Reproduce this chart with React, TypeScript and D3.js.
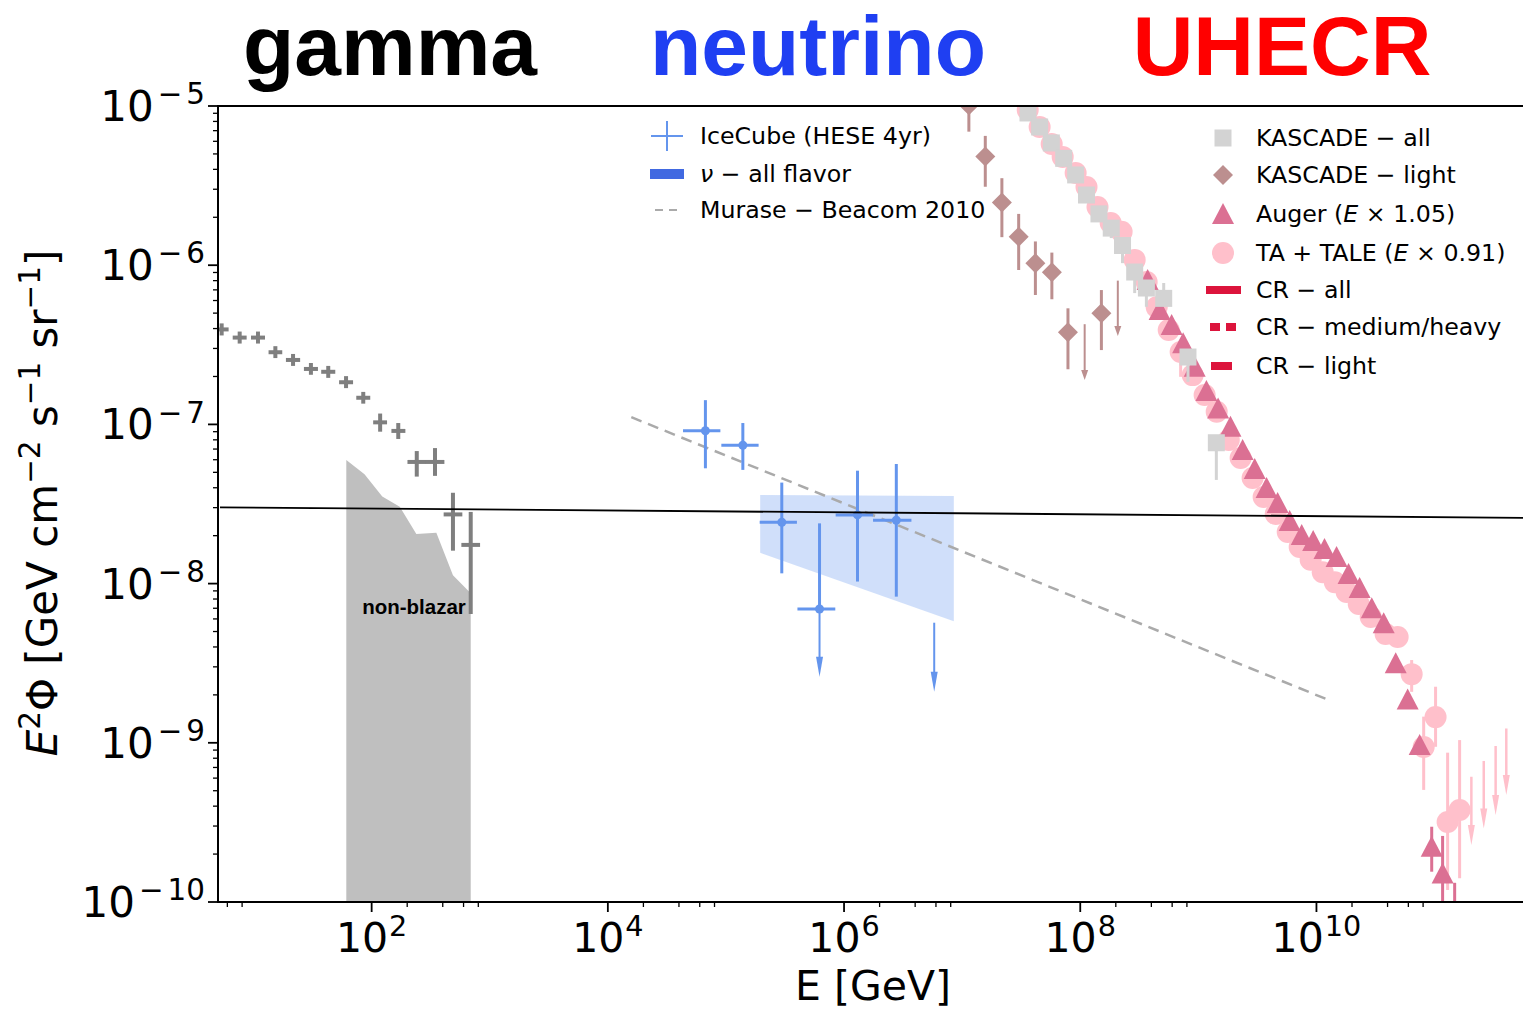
import { useEffect, useRef } from "react";
import * as d3 from "d3";

const W = 1523;
const H = 1013;

// axis ticks
const xMajor = [1e2, 1e4, 1e6, 1e8, 1e10];
const xMajorExp = ["2", "4", "6", "8", "10"];
const xMinor = [6, 8, 200, 400, 600, 800, 2e4, 4e4, 6e4, 8e4, 2e6, 4e6, 6e6, 8e6, 2e8, 4e8, 6e8, 8e8, 2e10, 4e10, 6e10, 8e10];
const yMajor = [1e-5, 1e-6, 1e-7, 1e-8, 1e-9, 1e-10];
const yMajorExp = ["5", "6", "7", "8", "9", "10"];

// Fermi-LAT EGB (gray crosses)
const fermiE = [5.37, 7.63, 10.9, 15.3, 21.6, 30.6, 42.9, 60.7, 84.9, 118, 168, 241, 344, 488, 690];
const fermiElo = [4.69, 6.66, 9.51, 13.4, 18.8, 26.7, 37.4, 53, 74.1, 103, 147, 201, 287, 407, 575];
const fermiEhi = [6.15, 8.74, 12.5, 17.5, 24.8, 35.1, 49.2, 69.6, 97.3, 135, 193, 289, 413, 586, 828];
const fermiF = [3.95e-7, 3.51e-7, 3.51e-7, 2.84e-7, 2.54e-7, 2.23e-7, 2.14e-7, 1.84e-7, 1.47e-7, 1.03e-7, 9.1e-8, 5.81e-8, 5.81e-8, 2.72e-8, 1.75e-8];
const fermiLo = [3.62e-7, 3.22e-7, 3.22e-7, 2.61e-7, 2.33e-7, 2.05e-7, 1.96e-7, 1.69e-7, 1.35e-7, 9.0e-8, 8.1e-8, 4.7e-8, 4.75e-8, 1.61e-8, 6.44e-9];
const fermiHi = [4.31e-7, 3.83e-7, 3.83e-7, 3.1e-7, 2.77e-7, 2.43e-7, 2.33e-7, 2.01e-7, 1.6e-7, 1.17e-7, 1.02e-7, 6.8e-8, 7.1e-8, 3.72e-8, 2.82e-8];

// non-blazar band (upper edge)
const nbE = [61, 87, 123, 173, 239, 353, 488, 690];
const nbF = [5.97e-8, 4.86e-8, 3.52e-8, 3.04e-8, 2.05e-8, 2.09e-8, 1.13e-8, 8.69e-9];

// thin black line
const lineE = [5.2, 6e11];
const lineF = [3.01e-8, 2.59e-8];

// Murase-Beacom 2010
const mbE = [1.58e4, 1.24e10];
const mbF = [1.11e-7, 1.87e-9];

// IceCube HESE 4yr
const heseE = [6.7e4, 1.39e5, 2.97e5, 6.2e5, 1.3e6, 2.77e6];
const heseElo = [4.33e4, 9.14e4, 1.93e5, 4.03e5, 8.49e5, 1.76e6];
const heseEhi = [8.97e4, 1.89e5, 3.99e5, 8.43e5, 1.76e6, 3.72e6];
const heseF = [9.12e-8, 7.4e-8, 2.43e-8, 6.92e-9, 2.7e-8, 2.5e-8];
const heseHi = [1.42e-7, 1.02e-7, 4.31e-8, 2.39e-8, 5.12e-8, 5.64e-8];
const heseLo = [5.3e-8, 5.18e-8, 1.16e-8, 2.6e-9, 1.03e-8, 8.28e-9];
const heseUL = [false, false, false, true, false, false];
const heseLimE = [5.8e6];
const heseLimF = [5.68e-9];
const heseLimTip = [2.09e-9];

// all-flavor band
const bandE = [1.95e5, 8.5e6];
const bandHi = [3.6e-8, 3.55e-8];
const bandLo = [1.56e-8, 5.8e-9];

// KASCADE light (diamonds)
const kLightE = [1.14e7, 1.57e7, 2.17e7, 3.01e7, 4.17e7, 5.75e7, 7.87e7, 1.51e8];
const kLightF = [1.01e-5, 4.81e-6, 2.48e-6, 1.51e-6, 1.03e-6, 9.02e-7, 3.79e-7, 4.99e-7];
const kLightHi = [1.3e-5, 6.49e-6, 3.52e-6, 2.1e-6, 1.41e-6, 1.2e-6, 5.36e-7, 6.98e-7];
const kLightLo = [6.9e-6, 3.11e-6, 1.5e-6, 9.33e-7, 6.5e-7, 6.11e-7, 2.22e-7, 2.93e-7];
const kLightLimE = [1.09e8, 2.08e8];
const kLightLimF = [4.26e-7, 8.0e-7];
const kLightLimTip = [1.9e-7, 3.59e-7];

// KASCADE all (squares)
const kAllE = [3.61e7, 4.53e7, 5.69e7, 7.24e7, 9.14e7, 1.13e8, 1.44e8, 1.83e8, 2.28e8, 2.89e8, 3.63e8, 5.09e8, 8.17e8, 1.42e9];
const kAllF = [9.04e-6, 7.38e-6, 5.86e-6, 4.69e-6, 3.69e-6, 2.76e-6, 2.1e-6, 1.71e-6, 1.33e-6, 9.06e-7, 7.19e-7, 6.19e-7, 2.65e-7, 7.67e-8];
const kAllLo = [9.04e-6, 7.38e-6, 5.86e-6, 4.69e-6, 3.69e-6, 2.76e-6, 2.0e-6, 1.48e-6, 1.03e-6, 6.68e-7, 5.48e-7, 5.9e-7, 1.85e-7, 4.48e-8];
const kAllHi = [9.04e-6, 7.38e-6, 5.86e-6, 4.69e-6, 3.69e-6, 2.76e-6, 2.2e-6, 1.8e-6, 1.4e-6, 9.6e-7, 7.6e-7, 7.73e-7, 2.8e-7, 8.5e-8];

// Auger (E x 1.05), triangles
const augerE = [3.72e8, 4.7e8, 5.94e8, 7.43e8, 9.31e8, 1.17e9, 1.47e9, 1.87e9, 2.37e9, 3.0e9, 3.78e9, 4.69e9, 5.93e9, 7.5e9, 9.38e9, 1.17e10, 1.48e10, 1.87e10, 2.32e10, 2.94e10, 3.71e10, 4.69e10, 5.92e10, 7.48e10, 9.46e10, 1.17e11, 1.48e11];
const augerF = [8.07e-7, 5.24e-7, 4.21e-7, 3.23e-7, 2.3e-7, 1.62e-7, 1.26e-7, 9.68e-8, 6.9e-8, 5.25e-8, 3.99e-8, 3.21e-8, 2.47e-8, 2.02e-8, 1.85e-8, 1.65e-8, 1.47e-8, 1.15e-8, 9.38e-9, 7.0e-9, 5.64e-9, 3.16e-9, 1.87e-9, 9.68e-10, 2.22e-10, 1.51e-10, 6e-11];
const augerBarE = [9.46e10, 1.17e11, 1.48e11];
const augerBarLo = [1.55e-10, 8e-11, 3e-11];
const augerBarHi = [2.97e-10, 2.6e-10, 1.32e-10];

// TA + TALE (E x 0.91), circles
const taE = [3.59e7, 4.53e7, 5.73e7, 7.1e7, 9.14e7, 1.13e8, 1.4e8, 1.81e8, 2.24e8, 2.89e8, 3.65e8, 4.44e8, 5.61e8, 7.08e8, 8.95e8, 1.13e9, 1.43e9, 1.81e9, 2.28e9, 2.88e9, 3.57e9, 4.52e9, 5.71e9, 7.21e9, 8.93e9, 1.13e10, 1.43e10, 1.8e10, 2.28e10, 2.88e10, 3.85e10, 4.87e10, 6.4e10, 8.09e10, 1.02e11, 1.29e11, 1.63e11];
const taF = [9.44e-6, 7.38e-6, 5.77e-6, 4.79e-6, 3.79e-6, 3.1e-6, 2.32e-6, 1.84e-6, 1.62e-6, 1.08e-6, 7.83e-7, 5.45e-7, 3.92e-7, 2.85e-7, 2.04e-7, 1.53e-7, 1.2e-7, 7.98e-8, 6.15e-8, 4.61e-8, 3.5e-8, 2.74e-8, 2.11e-8, 1.7e-8, 1.41e-8, 1.18e-8, 1.02e-8, 8.85e-9, 7.45e-9, 6.17e-9, 4.82e-9, 4.62e-9, 2.7e-9, 9.42e-10, 1.45e-9, 3.18e-10, 3.78e-10];
const taBarE = [7.08e8, 6.4e10, 8.09e10, 1.02e11, 1.29e11, 1.63e11];
const taBarLo = [1.99e-7, 2.09e-9, 5.06e-10, 9.44e-10, 1.19e-10, 1.41e-10];
const taBarHi = [3.24e-7, 3.31e-9, 1.46e-9, 2.25e-9, 8.67e-10, 1.04e-9];
const taLimE = [2.05e11, 2.61e11, 3.29e11, 4.05e11];
const taLimF = [6.12e-10, 7.69e-10, 9.55e-10, 1.23e-9];
const taLimTip = [2.28e-10, 2.9e-10, 3.52e-10, 4.7e-10];

const legendNu = ["IceCube (HESE 4yr)", "all flavor", "Murase \u2212 Beacom 2010"];

type Part = { t: string; sup?: boolean; it?: boolean; dx?: number };

function rich(text: any, parts: Part[], size: number) {
  let up = false;
  parts.forEach((p) => {
    const ts = text.append("tspan").text(p.t);
    if (p.it) ts.attr("font-style", "italic");
    if (p.dx) ts.attr("dx", p.dx);
    if (p.sup && !up) {
      ts.attr("font-size", size * 0.7).attr("dy", -size * 0.4);
      up = true;
    } else if (p.sup) {
      ts.attr("font-size", size * 0.7);
    } else if (up) {
      ts.attr("dy", size * 0.4);
      up = false;
    }
  });
}

const drawChart = (node: SVGSVGElement) => {
  const svg = d3.select(node);
  svg.selectAll("*").remove();

  const left = 218;
  const top = 106;
  const bottom = 902;
  const x = d3
    .scaleLog()
    .domain([5, 1e12])
    .range([left, left + (12 - Math.log10(5)) * 118.1]);
  const y = d3.scaleLog().domain([1e-10, 1e-5]).range([bottom, top]);

  svg.append("rect").attr("width", W).attr("height", H).attr("fill", "#fff");

  svg
    .append("defs")
    .append("clipPath")
    .attr("id", "plotclip")
    .append("rect")
    .attr("x", left)
    .attr("y", top)
    .attr("width", 1400)
    .attr("height", bottom - top);

  const plot = svg.append("g").attr("clip-path", "url(#plotclip)");

  const seg = (g: any, x1: number, y1: number, x2: number, y2: number, color: string, w: number) =>
    g
      .append("line")
      .attr("x1", x1)
      .attr("y1", y1)
      .attr("x2", x2)
      .attr("y2", y2)
      .attr("stroke", color)
      .attr("stroke-width", w);

  const arrow = (g: any, px: number, y1: number, y2: number, color: string, w: number, hw: number, hl: number) => {
    seg(g, px, y1, px, y2 - hl + 1, color, w);
    g.append("path")
      .attr("d", `M${px - hw},${y2 - hl}L${px + hw},${y2 - hl}L${px},${y2}Z`)
      .attr("fill", color);
  };

  // non-blazar band
  const nbArea = d3
    .area<number>()
    .x((d, i) => x(nbE[i]))
    .y0(bottom + 20)
    .y1((d) => y(d));
  plot.append("path").attr("d", nbArea(nbF)).attr("fill", "#bfbfbf");

  // Fermi crosses
  fermiE.forEach((e, i) => {
    seg(plot, x(fermiElo[i]), y(fermiF[i]), x(fermiEhi[i]), y(fermiF[i]), "#7f7f7f", 4);
    seg(plot, x(e), y(fermiHi[i]), x(e), y(fermiLo[i]), "#7f7f7f", 4);
  });

  // neutrino band
  const band = d3
    .area<number>()
    .x((d, i) => x(bandE[i]))
    .y0((d, i) => y(bandLo[i]))
    .y1((d) => y(d));
  plot.append("path").attr("d", band(bandHi)).attr("fill", "rgba(100,149,237,0.3)");

  // Murase-Beacom
  const ln = d3
    .line<number>()
    .x((d, i) => x(mbE[i]))
    .y((d) => y(d));
  plot
    .append("path")
    .attr("d", ln(mbF))
    .attr("fill", "none")
    .attr("stroke", "#aaaaaa")
    .attr("stroke-width", 2.5)
    .attr("stroke-dasharray", "11,7");

  // IceCube points
  const blue = "#6495ed";
  heseE.forEach((e, i) => {
    seg(plot, x(heseElo[i]), y(heseF[i]), x(heseEhi[i]), y(heseF[i]), blue, 3);
    if (heseUL[i]) {
      seg(plot, x(e), y(heseHi[i]), x(e), y(heseF[i]), blue, 3);
      arrow(plot, x(e), y(heseF[i]), y(heseLo[i]), blue, 2, 3.5, 20);
    } else {
      seg(plot, x(e), y(heseHi[i]), x(e), y(heseLo[i]), blue, 3);
    }
    plot.append("circle").attr("cx", x(e)).attr("cy", y(heseF[i])).attr("r", 4.5).attr("fill", blue);
  });
  heseLimE.forEach((e, i) => arrow(plot, x(e), y(heseLimF[i]), y(heseLimTip[i]), blue, 2, 3.5, 20));

  // TA + TALE
  const pink = "#ffc0cb";
  taBarE.forEach((e, i) => seg(plot, x(e), y(taBarHi[i]), x(e), y(taBarLo[i]), pink, 3));
  taLimE.forEach((e, i) => arrow(plot, x(e), y(taLimF[i]), y(taLimTip[i]), pink, 2.5, 3.5, 20));
  taE.forEach((e, i) =>
    plot.append("circle").attr("cx", x(e)).attr("cy", y(taF[i])).attr("r", 11).attr("fill", pink)
  );

  // Auger
  const auger = "#db7093";
  augerBarE.forEach((e, i) => seg(plot, x(e), y(augerBarHi[i]), x(e), y(augerBarLo[i]), auger, 3));
  augerE.forEach((e, i) =>
    plot
      .append("path")
      .attr("transform", `translate(${x(e)},${y(augerF[i])})`)
      .attr("d", "M0,-11L11,10L-11,10Z")
      .attr("fill", auger)
  );

  // KASCADE all
  const grey = "#d3d3d3";
  kAllE.forEach((e, i) => {
    seg(plot, x(e), y(kAllHi[i]), x(e), y(kAllLo[i]), grey, 3);
    plot
      .append("rect")
      .attr("x", x(e) - 8.5)
      .attr("y", y(kAllF[i]) - 8.5)
      .attr("width", 17)
      .attr("height", 17)
      .attr("fill", grey);
  });

  // KASCADE light
  const rosy = "#bc8f8f";
  kLightE.forEach((e, i) => {
    seg(plot, x(e), y(kLightHi[i]), x(e), y(kLightLo[i]), rosy, 3);
    plot
      .append("path")
      .attr("transform", `translate(${x(e)},${y(kLightF[i])})`)
      .attr("d", "M0,-10L10,0L0,10L-10,0Z")
      .attr("fill", rosy);
  });
  kLightLimE.forEach((e, i) => arrow(plot, x(e), y(kLightLimF[i]), y(kLightLimTip[i]), rosy, 2, 3.5, 10));

  // black reference line
  const bl = d3
    .line<number>()
    .x((d, i) => x(lineE[i]))
    .y((d) => y(d));
  plot.append("path").attr("d", bl(lineF)).attr("fill", "none").attr("stroke", "#000").attr("stroke-width", 1.8);

  svg
    .append("text")
    .attr("x", 414)
    .attr("y", 614)
    .attr("text-anchor", "middle")
    .attr("font-family", "Liberation Sans, Arial, sans-serif")
    .attr("font-weight", "bold")
    .attr("font-size", 20.5)
    .text("non-blazar");

  // spines
  const ax = svg.append("g").attr("stroke", "#000");
  seg(ax, left, top, W + 5, top, "#000", 2);
  seg(ax, left, top - 1, left, bottom + 1, "#000", 2);
  seg(ax, left - 1, bottom, W + 5, bottom, "#000", 2);

  const font = "DejaVu Sans, Verdana, sans-serif";

  // x ticks
  xMajor.forEach((v, i) => {
    seg(ax, x(v), bottom, x(v), bottom + 10, "#000", 1.8);
    const t = svg
      .append("text")
      .attr("x", x(v))
      .attr("y", 952)
      .attr("text-anchor", "middle")
      .attr("font-family", font)
      .attr("font-size", 41);
    rich(t, [{ t: "10" }, { t: xMajorExp[i], sup: true, dx: 1 }], 41);
  });
  xMinor.forEach((v) => seg(ax, x(v), bottom, x(v), bottom + 5, "#000", 1.3));

  // y ticks
  yMajor.forEach((v, i) => {
    seg(ax, left, y(v), left - 10, y(v), "#000", 1.8);
    const t = svg
      .append("text")
      .attr("x", 205)
      .attr("y", y(v) + 15)
      .attr("text-anchor", "end")
      .attr("font-family", font)
      .attr("font-size", 42);
    rich(t, [{ t: "10" }, { t: "\u2212", sup: true, dx: 4 }, { t: yMajorExp[i], sup: true, dx: 4 }], 42);
  });
  yMajor.slice(0, 5).forEach((v) => {
    [2, 3, 4, 5, 6, 7, 8, 9].forEach((m) => {
      const vv = (v / 10) * m;
      seg(ax, left, y(vv), left - 5, y(vv), "#000", 1.3);
    });
  });

  // axis labels
  const xl = svg
    .append("text")
    .attr("x", 873)
    .attr("y", 1000)
    .attr("text-anchor", "middle")
    .attr("font-family", font)
    .attr("font-size", 41);
  rich(xl, [{ t: "E [GeV]" }], 41);

  const yl = svg
    .append("text")
    .attr("transform", "translate(57,503) rotate(-90)")
    .attr("text-anchor", "middle")
    .attr("font-family", font)
    .attr("font-size", 42);
  rich(
    yl,
    [
      { t: "E", it: true },
      { t: "2", sup: true },
      { t: "\u03a6 [GeV cm" },
      { t: "\u22122", sup: true },
      { t: " s" },
      { t: "\u22121", sup: true },
      { t: " sr" },
      { t: "\u22121", sup: true },
      { t: "]" },
    ],
    42
  );

  // titles
  const titles = [
    { t: "gamma", cx: 390, c: "#000000" },
    { t: "neutrino", cx: 818, c: "#1f3ff2" },
    { t: "UHECR", cx: 1282, c: "#ff0000" },
  ];
  titles.forEach((d) =>
    svg
      .append("text")
      .attr("x", d.cx)
      .attr("y", 75)
      .attr("text-anchor", "middle")
      .attr("font-family", "Liberation Sans, Arial, sans-serif")
      .attr("font-weight", "bold")
      .attr("font-size", 84)
      .attr("fill", d.c)
      .text(d.t)
  );

  // legend: neutrino
  const lfs = 23.7;
  const lg = svg.append("g").attr("font-family", font).attr("font-size", lfs);
  seg(lg, 651, 136, 683, 136, blue, 2);
  seg(lg, 667, 121, 667, 151, blue, 2);
  lg.append("text").attr("x", 700).attr("y", 144).text(legendNu[0]);
  lg.append("rect").attr("x", 650).attr("y", 169).attr("width", 34).attr("height", 10).attr("fill", "#4169e1");
  const l2 = lg.append("text").attr("x", 700).attr("y", 182);
  rich(l2, [{ t: "\u03bd", it: true }, { t: " \u2212 " + legendNu[1] }], lfs);
  seg(lg, 655, 210, 681, 210, "#aaaaaa", 2).attr("stroke-dasharray", "8,6");
  lg.append("text").attr("x", 700).attr("y", 218).text(legendNu[2]);

  // legend: UHECR
  const lx = 1223;
  const tx = 1256;
  lg.append("rect").attr("x", lx - 8.5).attr("y", 138 - 8.5).attr("width", 17).attr("height", 17).attr("fill", grey);
  lg.append("text").attr("x", tx).attr("y", 146).text("KASCADE \u2212 all");
  lg.append("path").attr("transform", `translate(${lx},175)`).attr("d", "M0,-10L10,0L0,10L-10,0Z").attr("fill", rosy);
  lg.append("text").attr("x", tx).attr("y", 183).text("KASCADE \u2212 light");
  lg.append("path").attr("transform", `translate(${lx},214)`).attr("d", "M0,-11L11,10L-11,10Z").attr("fill", auger);
  const a3 = lg.append("text").attr("x", tx).attr("y", 222);
  rich(a3, [{ t: "Auger (" }, { t: "E", it: true }, { t: " \u00d7 1.05)" }], lfs);
  lg.append("circle").attr("cx", lx).attr("cy", 253).attr("r", 11).attr("fill", pink);
  const a4 = lg.append("text").attr("x", tx).attr("y", 261);
  rich(a4, [{ t: "TA + TALE (" }, { t: "E", it: true }, { t: " \u00d7 0.91)" }], lfs);
  const crimson = "#dc143c";
  seg(lg, 1206, 290, 1241, 290, crimson, 8);
  lg.append("text").attr("x", tx).attr("y", 298).text("CR \u2212 all");
  seg(lg, 1210, 327, 1241, 327, crimson, 8).attr("stroke-dasharray", "10,6");
  lg.append("text").attr("x", tx).attr("y", 335).text("CR \u2212 medium/heavy");
  seg(lg, 1211, 366, 1232, 366, crimson, 8);
  lg.append("text").attr("x", tx).attr("y", 374).text("CR \u2212 light");
};

export default function App() {
  const ref = useRef<SVGSVGElement>(null);
  useEffect(() => {
    if (ref.current) drawChart(ref.current);
  }, []);
  return (
    <svg
      ref={ref}
      width={W}
      height={H}
      style={{ position: "absolute", left: 0, top: 0, display: "block" }}
    />
  );
}
